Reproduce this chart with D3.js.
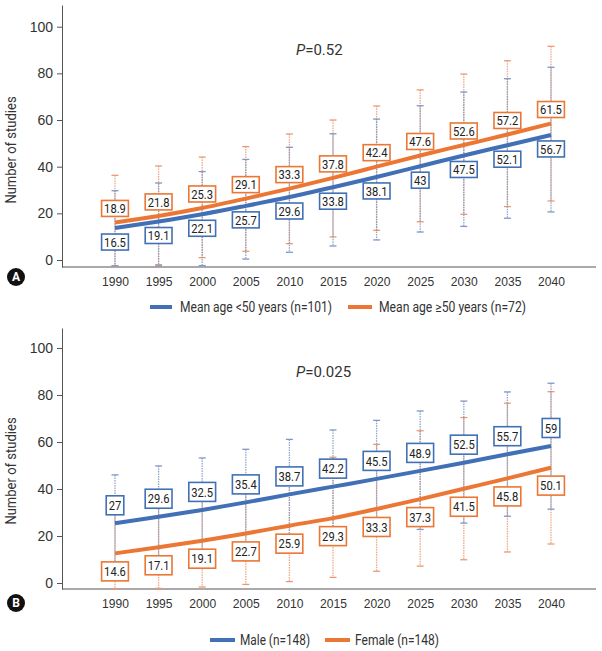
<!DOCTYPE html>
<html><head><meta charset="utf-8">
<script src="https://cdn.jsdelivr.net/npm/d3@7"></script>
<style>
body{margin:0;background:#fff;}
svg{font-family:"Roboto","Noto Sans",sans-serif;}
</style></head>
<body>
<svg id="chart" width="602" height="651"></svg>
<script>
const years = [1990,1995,2000,2005,2010,2015,2020,2025,2030,2035,2040];
const yTicks = [0,20,40,60,80,100];

// Panel A
const aBlueLabels = [16.5,19.1,22.1,25.7,29.6,33.8,38.1,43,47.5,52.1,56.7];
const aBlueFit    = [13.7,16.5,19.6,23.2,27.0,31.2,35.6,40.2,44.8,49.2,53.6];
const aBlueHigh   = [29.7,33.0,37.9,43.1,48.3,54.1,60.4,66.1,72.0,77.7,82.6];
const aBlueLow    = [-2.5,-2.5,-2.4,0.4,3.3,6.0,8.6,12.0,14.4,17.9,20.6];
const aOrangeLabels = [18.9,21.8,25.3,29.1,33.3,37.8,42.4,47.6,52.6,57.2,61.5];
const aOrangeFit    = [16.1,18.9,22.3,26.3,30.6,35.2,40.0,44.8,49.3,53.8,58.5];
const aOrangeHigh   = [36.3,40.3,44.1,48.6,54.0,60.0,66.0,72.9,79.7,85.4,91.6];
const aOrangeLow    = [-2.5,-2.0,1.0,3.7,7.0,9.9,12.7,16.4,19.6,22.9,25.3];

// Panel B
const bBlueLabels = [27,29.6,32.5,35.4,38.7,42.2,45.5,48.9,52.5,55.7,59];
const bBlueFit    = [25.4,28.2,31.1,34.3,37.7,41.0,44.3,47.7,51.2,54.8,58.3];
const bBlueHigh   = [46.0,49.8,53.2,56.9,61.1,65.1,69.2,73.2,77.4,81.3,85.0];
const bBlueLow    = [7.6,9.4,11.3,13.3,15.5,17.8,20.2,22.8,25.5,28.4,31.4];
const bOrangeLabels = [14.6,17.1,19.1,22.7,25.9,29.3,33.3,37.3,41.5,45.8,50.1];
const bOrangeFit    = [12.6,15.2,18.0,21.1,24.4,27.6,31.5,35.7,40.1,44.5,49.1];
const bOrangeHigh   = [30.5,34.5,38.8,43.4,48.3,53.5,59.0,64.8,70.4,76.5,81.4];
const bOrangeLow    = [-2.5,-2.3,-1.7,-0.6,0.6,2.4,5.0,7.2,9.9,13.2,16.6];

const BLUE = "#4170b6", ORANGE = "#ec7634";
const BLUE_BAR = "#7f97c6", ORANGE_BAR = "#eb9a70";
const TEXT = "#333";

const svg = d3.select("#chart");
const x = d3.scaleLinear().domain([1990,2040]).range([115,551]);

function condense(sel, factor){
  sel.each(function(){
    const n = this.getComputedTextLength();
    d3.select(this).attr("textLength", n*factor).attr("lengthAdjust","spacingAndGlyphs");
  });
}

function panel(cfg){
  const g = svg.append("g");
  const y = d3.scaleLinear().domain(cfg.yDomain).range(cfg.yRange);
  const yAxis = g.append("g").attr("transform","translate(62,0)")
    .call(d3.axisLeft(y).tickValues(yTicks).tickSize(5).tickSizeOuter(0).tickPadding(4));
  yAxis.selectAll("text").attr("font-size",14).attr("fill",TEXT);
  yAxis.selectAll("line,path").attr("stroke","#555");
  const xAxisY = cfg.yRange[0];
  const xAxis = g.append("g").attr("transform",`translate(0,${xAxisY})`)
    .call(d3.axisBottom(x).tickValues(years).tickFormat(d3.format("d")).tickSize(0).tickPadding(cfg.xPad));
  xAxis.select("path").remove();
  xAxis.selectAll("text").attr("font-size",13).attr("fill",TEXT);
  condense(xAxis.selectAll("text"),0.93);
  g.append("line").attr("x1",62).attr("x2",596).attr("y1",xAxisY).attr("y2",xAxisY).attr("stroke","#555");

  const yl = g.append("text").attr("transform",`translate(16,${cfg.labelY}) rotate(-90)`)
    .attr("text-anchor","middle").attr("font-size",14).attr("fill",TEXT).text("Number of studies");
  condense(yl,0.93);

  function bars(high, low, color){
    const eb = g.append("g");
    years.forEach((yr,i)=>{
      const cx = x(yr);
      eb.append("line").attr("x1",cx).attr("x2",cx).attr("y1",y(high[i])).attr("y2",y(low[i]))
        .attr("stroke",color).attr("stroke-width",1.3).attr("stroke-dasharray","1.5,1").attr("opacity",0.85);
      [high[i],low[i]].forEach(v=>{
        eb.append("line").attr("x1",cx-3.5).attr("x2",cx+3.5).attr("y1",y(v)).attr("y2",y(v))
          .attr("stroke",color).attr("stroke-width",1.3);
      });
    });
  }
  bars(cfg.orangeHigh,cfg.orangeLow,ORANGE_BAR);
  bars(cfg.blueHigh,cfg.blueLow,BLUE_BAR);

  const line = d3.line().x((d,i)=>x(years[i])).y(d=>y(d)).curve(d3.curveMonotoneX);
  g.append("path").datum(cfg.blueFit).attr("d",line).attr("fill","none").attr("stroke",BLUE).attr("stroke-width",4);
  g.append("path").datum(cfg.orangeFit).attr("d",line).attr("fill","none").attr("stroke",ORANGE).attr("stroke-width",4);

  function labels(vals, fit, color, off, h){
    years.forEach((yr,i)=>{
      const cx = x(yr), cy = y(fit[i]) + off;
      const lg = g.append("g");
      const t = lg.append("text").attr("x",cx).attr("y",cy).attr("dy","0.36em")
        .attr("text-anchor","middle").attr("font-size",13).attr("fill","#222").text(vals[i]);
      const w0 = t.node().getComputedTextLength()*0.86;
      t.attr("textLength",w0).attr("lengthAdjust","spacingAndGlyphs");
      const w = w0 + 5;
      lg.insert("rect","text").attr("x",cx-w/2).attr("y",cy-h/2).attr("width",w).attr("height",h)
        .attr("fill","#fff").attr("stroke",color).attr("stroke-width",1.6);
    });
  }
  labels(cfg.blueLabels,cfg.blueFit,BLUE,cfg.blueOff,cfg.boxH);
  labels(cfg.orangeLabels,cfg.orangeFit,ORANGE,cfg.orangeOff,cfg.boxH);

  const p = g.append("text").attr("x",296).attr("y",cfg.pY).attr("dy","0.36em").attr("font-size",15).attr("fill",TEXT);
  p.append("tspan").attr("font-style","italic").text("P");
  p.append("tspan").text(cfg.pText);

  g.append("circle").attr("cx",16).attr("cy",cfg.letterY).attr("r",9).attr("fill","#111");
  g.append("text").attr("x",16).attr("y",cfg.letterY).attr("dy","0.36em").attr("text-anchor","middle")
    .attr("font-size",12).attr("fill","#fff").attr("font-weight","bold").text(cfg.letter);

  cfg.legend.forEach(l=>{
    g.append("line").attr("x1",l.x1).attr("x2",l.x2).attr("y1",cfg.legY).attr("y2",cfg.legY)
      .attr("stroke",l.color).attr("stroke-width",4);
    g.append("text").attr("x",l.tx).attr("y",cfg.legY).attr("dy","0.36em").attr("font-size",14)
      .attr("fill",TEXT).attr("textLength",l.w).attr("lengthAdjust","spacingAndGlyphs").text(l.text);
  });
}

panel({
  yDomain:[-3,109.3], yRange:[267,5], xPad:10, labelY:150,
  blueLabels:aBlueLabels, blueFit:aBlueFit, blueHigh:aBlueHigh, blueLow:aBlueLow,
  orangeLabels:aOrangeLabels, orangeFit:aOrangeFit, orangeHigh:aOrangeHigh, orangeLow:aOrangeLow,
  blueOff:14, orangeOff:-14, boxH:16,
  pY:50, pText:"=0.52", letter:"A", letterY:277, legY:307,
  legend:[
    {x1:150,x2:172,tx:180,w:152,color:BLUE,text:"Mean age <50 years (n=101)"},
    {x1:348,x2:372,tx:379,w:147,color:ORANGE,text:"Mean age \u226550 years (n=72)"}
  ]
});
panel({
  yDomain:[-2.55,108.5], yRange:[589,328], xPad:9.5, labelY:471,
  blueLabels:bBlueLabels, blueFit:bBlueFit, blueHigh:bBlueHigh, blueLow:bBlueLow,
  orangeLabels:bOrangeLabels, orangeFit:bOrangeFit, orangeHigh:bOrangeHigh, orangeLow:bOrangeLow,
  blueOff:-18, orangeOff:18, boxH:19,
  pY:372, pText:"=0.025", letter:"B", letterY:603, legY:640,
  legend:[
    {x1:210,x2:235,tx:240,w:70,color:BLUE,text:"Male (n=148)"},
    {x1:325,x2:350,tx:355,w:84,color:ORANGE,text:"Female (n=148)"}
  ]
});
</script>
</body></html>
